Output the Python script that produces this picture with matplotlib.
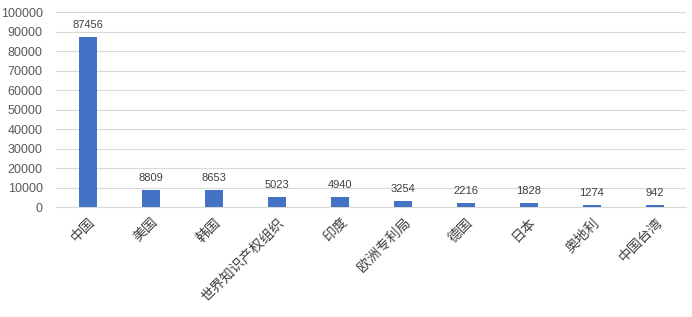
import matplotlib
matplotlib.use("Agg")
import matplotlib.pyplot as plt

plt.rcParams['font.family'] = ['Noto Sans CJK SC', 'DejaVu Sans']

categories = ["中国", "美国", "韩国", "世界知识产权组织", "印度", "欧洲专利局", "德国", "日本", "奥地利", "中国台湾"]
values = [87456, 8809, 8653, 5023, 4940, 3254, 2216, 1828, 1274, 942]
yticks = [0, 10000, 20000, 30000, 40000, 50000, 60000, 70000, 80000, 90000, 100000]

fig = plt.figure(figsize=(6.92, 3.17), dpi=100)
ax = fig.add_axes([0.0816, 0.347, 0.9104, 0.615])

x = list(range(len(categories)))
bars = ax.bar(x, values, width=0.3, color="#4472C4", zorder=3)
for xi, v in zip(x, values):
    ax.annotate(str(v), (xi, v), xytext=(0, 5), textcoords="offset points",
                ha="center", va="bottom", fontsize=8, color="#404040",
                family=['Liberation Sans'])

ax.set_xlim(-0.5, len(categories) - 0.5)
ax.set_ylim(0, 100000)
ax.set_yticks(yticks)
ax.set_yticklabels([str(t) for t in yticks], fontsize=9, color="#595959", family=['Liberation Sans'])
ax.set_xticks(x)
ax.set_xticklabels(categories, rotation=45, ha="right", rotation_mode="anchor",
                   fontsize=10, color="#404040")
ax.tick_params(axis='both', length=0)
ax.tick_params(axis='x', pad=6)
ax.tick_params(axis='y', pad=10)
ax.grid(axis='y', color="#D9D9D9", linewidth=0.8, zorder=0)
for s in ["top", "right", "left"]:
    ax.spines[s].set_visible(False)
ax.spines["bottom"].set_color("#D9D9D9")

fig.savefig("out.png", dpi=100)
